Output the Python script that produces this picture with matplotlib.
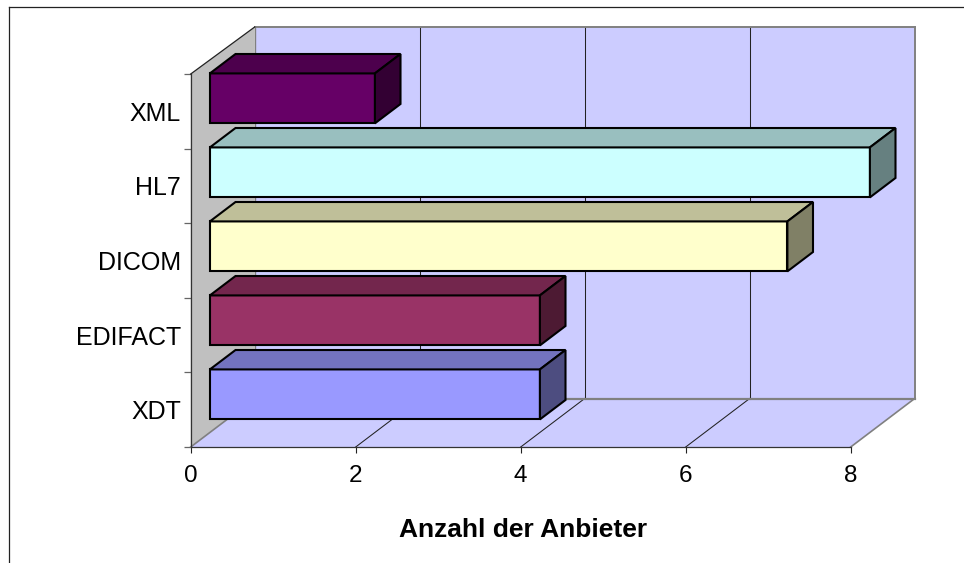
import matplotlib
matplotlib.use("Agg")
import matplotlib.pyplot as plt
from matplotlib.lines import Line2D
from matplotlib.patches import Polygon

plt.rcParams['font.family'] = ['Liberation Sans', 'DejaVu Sans']

categories = ["XDT", "EDIFACT", "DICOM", "HL7", "XML"]
values = [4, 4, 7, 8, 2]
front_colors = ["#9999FF", "#993366", "#FFFFCC", "#CCFFFF", "#660066"]
top_colors = ["#7373BF", "#73264D", "#BFBF99", "#99BFBF", "#4D004D"]
side_colors = ["#4D4D80", "#4D1A33", "#808066", "#668080", "#330033"]
x_ticks = [0, 2, 4, 6, 8]
x_title = "Anzahl der Anbieter"

W, H = 964, 563
X0, X8, Y0, Y5 = 190.7, 850.7, 447.0, 74.0
DX = 64.0 / ((X8 - X0) / 8)
DY = 48.5 / ((Y0 - Y5) / 5)
BAR_D0, BAR_D1 = 0.3, 0.7
BAR_H = 0.67
BAR_CENTER = 0.51
BAR_STEP = 0.992

fig = plt.figure(figsize=(W / 100, H / 100), dpi=100, facecolor="white")
ax = fig.add_axes([X0 / W, 1 - Y0 / H, (X8 - X0) / W, (Y0 - Y5) / H])
ax.set_xlim(0, x_ticks[-1])
ax.set_ylim(0, len(categories))
ax.patch.set_visible(False)


def project(v, c, d):
    return (v + d * DX, c + d * DY)


def face(points, color, edge, lw, z):
    ax.add_patch(Polygon([project(*p) for p in points], closed=True, facecolor=color,
                         edgecolor=edge, linewidth=lw, joinstyle="miter",
                         clip_on=False, zorder=z))


xmax = x_ticks[-1]
nc = len(categories)
top = nc - 0.02
GRAY = "#808080"

# Left wall, back wall, floor
face([(0, 0, 0), (0, 0, 1), (0, top, 1), (0, nc, 0)], "#C0C0C0", "none", 0, 1)
face([(0, 0, 1), (xmax, 0, 1), (xmax, top, 1), (0, top, 1)], "#CCCCFF", "none", 0, 1)
face([(0, 0, 0), (xmax, 0, 0), (xmax, 0, 1), (0, 0, 1)], "#CCCCFF", "none", 0, 1)


def edge(a, b, color, lw, z=2):
    pa, pb = project(*a), project(*b)
    ax.add_line(Line2D([pa[0], pb[0]], [pa[1], pb[1]], color=color, linewidth=lw,
                       clip_on=False, zorder=z, solid_capstyle="projecting"))


# Gridlines over floor and back wall
for t in x_ticks[1:-1]:
    edge((t, 0, 0), (t, 0, 1), "#222222", 0.75)
    edge((t, 0, 1), (t, top, 1), "#222222", 0.75)

# Wall outlines
edge((0, top, 1), (xmax, top, 1), GRAY, 1.4)
edge((xmax, top, 1), (xmax, 0, 1), GRAY, 1.4)
edge((0, 0, 1), (xmax, 0, 1), GRAY, 1.6)
edge((0, 0, 1), (0, top, 1), GRAY, 1.0)
edge((xmax, 0, 0), (xmax, 0, 1), GRAY, 1.2)
edge((0, 0, 0), (0, 0, 1), GRAY, 1.2)
edge((0, nc, 0), (0, top, 1), "#222222", 0.9)

# Bars, far to near
for i in reversed(range(nc)):
    v = values[i]
    mid = i * BAR_STEP + BAR_CENTER
    lo, hi = mid - BAR_H / 2, mid + BAR_H / 2
    d0, d1 = BAR_D0, BAR_D1
    z = 5 + (nc - i)
    face([(0, lo, d0), (v, lo, d0), (v, hi, d0), (0, hi, d0)], front_colors[i], "black", 1.5, z)
    face([(0, hi, d0), (v, hi, d0), (v, hi, d1), (0, hi, d1)], top_colors[i], "black", 1.5, z)
    face([(v, lo, d0), (v, lo, d1), (v, hi, d1), (v, hi, d0)], side_colors[i], "black", 1.5, z)

# Axes
for s in ("top", "right"):
    ax.spines[s].set_visible(False)
ax.spines["left"].set_color("#333333")
ax.spines["left"].set_linewidth(0.9)
ax.spines["bottom"].set_color("#333333")
ax.spines["bottom"].set_linewidth(0.9)
ax.spines["left"].set_zorder(3)
ax.spines["bottom"].set_zorder(3)

ax.set_xticks(x_ticks)
ax.set_xticklabels([str(t) for t in x_ticks], fontsize=17.5)
ax.tick_params(axis="x", length=4.6, width=0.8, color="#222222", pad=8)
ax.set_yticks(range(nc + 1))
ax.set_yticklabels([""] * (nc + 1))
ax.tick_params(axis="y", which="major", length=4.8, width=0.9, color="#666666")
ax.set_yticks([i + 0.5 for i in range(nc)], minor=True)
ax.set_yticklabels(categories, minor=True, fontsize=18)
ax.tick_params(axis="y", which="minor", length=0, pad=7)
ax.set_xlabel(x_title, fontsize=19, fontweight="bold", labelpad=22.5, x=0.503)

# Chart-area frame: runs off the right and bottom of the image
fx = lambda px: px / W
fy = lambda py: 1 - py / H
fig.add_artist(Line2D([fx(8.5), fx(8.5)], [fy(H), fy(7)], color="#222222", linewidth=0.9))
fig.add_artist(Line2D([fx(8.5), fx(W)], [fy(7), fy(7)], color="#222222", linewidth=0.9))

fig.savefig("out.png", dpi=100, facecolor="white")
